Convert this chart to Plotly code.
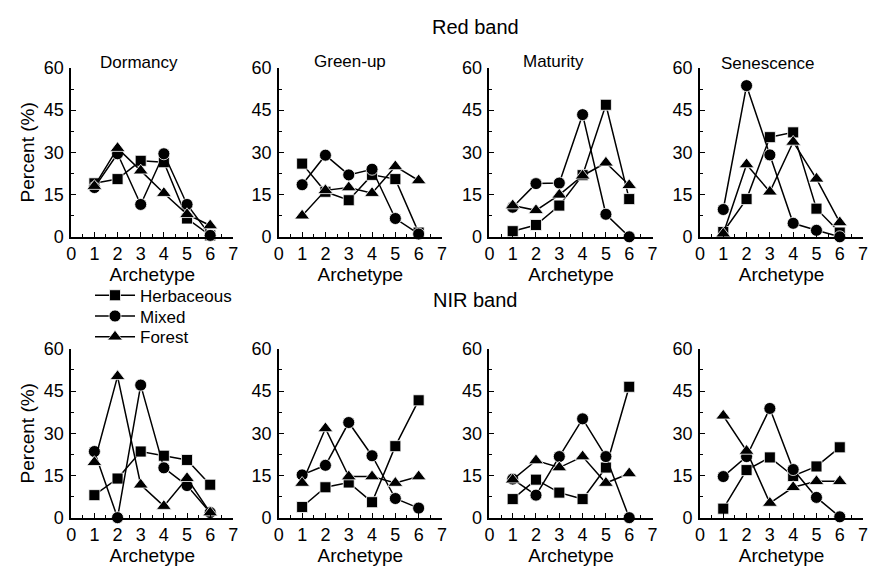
import plotly.graph_objects as go

archetype = [1, 2, 3, 4, 5, 6]
stages = ["Dormancy", "Green-up", "Maturity", "Senescence"]
bands = ["Red band", "NIR band"]
series_names = ["Herbaceous", "Mixed", "Forest"]
x_ticks = [0, 1, 2, 3, 4, 5, 6, 7]
y_ticks = [0, 15, 30, 45, 60]

# Red band: one list per stage (Dormancy, Green-up, Maturity, Senescence)
red_herbaceous = [
    [19, 20.5, 27, 26.5, 6.5, 0.5],
    [26, 16, 13, 22, 20.5, 1.5],
    [2, 4.2, 11.1, 21.9, 46.9, 13.4],
    [1.7, 13.4, 35.4, 37.1, 10, 1.5],
]
red_mixed = [
    [17.5, 29.5, 11.5, 29.5, 11.5, 0.5],
    [18.5, 29, 22, 24, 6.5, 1],
    [10.5, 18.9, 19.1, 43.4, 8, 0],
    [9.7, 53.7, 29.1, 4.8, 2.3, 0],
]
red_forest = [
    [18, 31.5, 23.5, 15.5, 8, 4],
    [7.5, 16.5, 17.5, 15.5, 25, 20],
    [11.1, 9.4, 14.9, 21.7, 26.3, 18.3],
    [1.1, 25.7, 16, 33.7, 20.6, 5.1],
]
# NIR band
nir_herbaceous = [
    [8, 13.9, 23.5, 22, 20.5, 11.7],
    [3.8, 10.8, 12.5, 5.5, 25.4, 41.7],
    [6.6, 13.5, 8.9, 6.6, 17.8, 46.5],
    [3.2, 16.9, 21.4, 14.8, 18.2, 25],
]
nir_mixed = [
    [23.5, 0, 47.1, 17.7, 11.4, 1.8],
    [15.2, 18.6, 33.8, 22, 6.8, 3.4],
    [13.7, 8, 21.7, 35.1, 21.7, 0],
    [14.6, 21.7, 38.8, 17.1, 7.2, 0.3],
]
nir_forest = [
    [19.7, 50.2, 11.7, 4.1, 14, 1.8],
    [12.3, 31.7, 14.6, 14.6, 12.3, 14.6],
    [13.5, 20.3, 17.8, 21.7, 12.3, 15.7],
    [36.2, 23.7, 5.2, 10.8, 12.9, 12.9],
]

W, H = 874, 574
col_px = [(67, 231), (277, 442), (490, 655), (703, 868)]
row_px = [(60, 235), (351, 526)]
symbols = ["square", "circle", "triangle-up"]
sizes = [11, 12, 13]
legend_ids = ["legend", "legend2", "legend3"]
legend_y_px = [296, 317.5, 339]
FONT = "Liberation Sans, Arial, sans-serif"

band_data = [
    [red_herbaceous, red_mixed, red_forest],
    [nir_herbaceous, nir_mixed, nir_forest],
]

fig = go.Figure()
layout = {}
for r in range(2):
    for c in range(4):
        n = r * 4 + c + 1
        xa = "x" if n == 1 else f"x{n}"
        ya = "y" if n == 1 else f"y{n}"
        for s in range(3):
            fig.add_trace(go.Scatter(
                x=archetype, y=band_data[r][s][c],
                xaxis=xa, yaxis=ya,
                mode="lines+markers",
                name=series_names[s],
                legend=legend_ids[s],
                showlegend=(n == 1),
                line=dict(color="black", width=1.5),
                marker=dict(symbol=symbols[s], size=sizes[s], color="black",
                            line=dict(color="white", width=0.8)),
                cliponaxis=False,
            ))
        x0, x1 = col_px[c]
        y0, y1 = row_px[r]
        layout[f"xaxis{'' if n == 1 else n}"] = dict(
            domain=[x0 / W, x1 / W], anchor=ya, range=[0, 7],
            tickvals=x_ticks, ticks="inside", ticklen=5, tickwidth=1.2,
            tickcolor="black", showline=True, linecolor="black", linewidth=1.5,
            showgrid=False, zeroline=False, ticklabelstandoff=0,
            tickfont=dict(family=FONT, size=18, color="black"),
            minor=dict(dtick=0.5, ticks="inside", ticklen=3, tickcolor="black", tickwidth=1),
            title=dict(text="Archetype", font=dict(family=FONT, size=19, color="black"), standoff=0),
        )
        layout[f"yaxis{'' if n == 1 else n}"] = dict(
            domain=[1 - y1 / H, 1 - y0 / H], anchor=xa, range=[0, 60],
            tickvals=y_ticks, ticks="inside", ticklen=5, tickwidth=1.2,
            tickcolor="black", showline=True, linecolor="black", linewidth=1.5,
            showgrid=False, zeroline=False, ticklabelstandoff=2,
            tickfont=dict(family=FONT, size=18, color="black"),
            minor=dict(dtick=7.5, ticks="inside", ticklen=3, tickcolor="black", tickwidth=1),
            title=dict(text="Percent (%)" if c == 0 else "",
                       font=dict(family=FONT, size=19, color="black"), standoff=4),
        )

for s, lid in enumerate(legend_ids):
    layout[lid] = dict(x=86 / W, y=1 - legend_y_px[s] / H, xanchor="left", yanchor="middle",
                       font=dict(family=FONT, size=17, color="black"),
                       bgcolor="rgba(0,0,0,0)", itemwidth=40)

annotations = []
for r, band in enumerate(bands):
    annotations.append(dict(text=band, x=476 / W, y=1 - (18 if r == 0 else 300) / H,
                            xref="paper", yref="paper", showarrow=False,
                            font=dict(family=FONT, size=20, color="black"),
                            xanchor="center", yanchor="middle"))
title_pos = [(136, 54), (349, 53), (555, 53), (772, 55)]
for c, st in enumerate(stages):
    annotations.append(dict(text=st, x=title_pos[c][0] / W, y=1 - title_pos[c][1] / H,
                            xref="paper", yref="paper", showarrow=False,
                            font=dict(family=FONT, size=17, color="black"),
                            xanchor="center", yanchor="middle"))

fig.update_layout(
    width=W, height=H, margin=dict(l=0, r=0, t=0, b=0),
    paper_bgcolor="white", plot_bgcolor="white",
    annotations=annotations,
    showlegend=True,
    **layout,
)
fig.write_html("out.html")
